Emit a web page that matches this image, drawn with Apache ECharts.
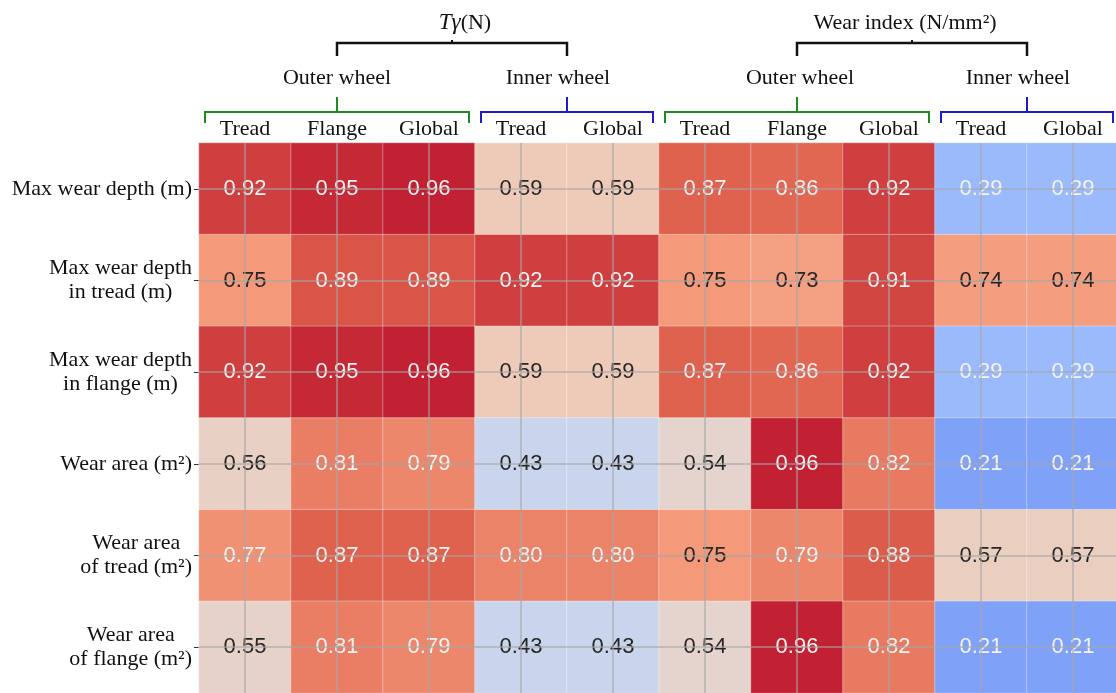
<!DOCTYPE html>
<html>
<head>
<meta charset="utf-8">
<script src="https://cdn.jsdelivr.net/npm/echarts@6.0.0/dist/echarts.min.js"></script>
<style>
  html, body { margin: 0; padding: 0; background: #fff; }
  #chart { width: 1116px; height: 693px; }
</style>
</head>
<body>
<div id="chart"></div>
<script>
// column / row labels
const columns = ['Tread', 'Flange', 'Global', 'Tread', 'Global', 'Tread', 'Flange', 'Global', 'Tread', 'Global']
const rowLabels = [
  'Max wear depth (m)',
  'Max wear depth\nin tread (m)',
  'Max wear depth\nin flange (m)',
  'Wear area (m²)',
  'Wear area\nof tread (m²)',
  'Wear area\nof flange (m²)'
]

// one array per row, same order as columns
const maxWearDepth = [0.92, 0.95, 0.96, 0.59, 0.59, 0.87, 0.86, 0.92, 0.29, 0.29]
const maxWearDepthTread = [0.75, 0.89, 0.89, 0.92, 0.92, 0.75, 0.73, 0.91, 0.74, 0.74]
const maxWearDepthFlange = [0.92, 0.95, 0.96, 0.59, 0.59, 0.87, 0.86, 0.92, 0.29, 0.29]
const wearArea = [0.56, 0.81, 0.79, 0.43, 0.43, 0.54, 0.96, 0.82, 0.21, 0.21]
const wearAreaTread = [0.77, 0.87, 0.87, 0.80, 0.80, 0.75, 0.79, 0.88, 0.57, 0.57]
const wearAreaFlange = [0.55, 0.81, 0.79, 0.43, 0.43, 0.54, 0.96, 0.82, 0.21, 0.21]
const matrix = [maxWearDepth, maxWearDepthTread, maxWearDepthFlange, wearArea, wearAreaTread, wearAreaFlange]

// header groups above the columns
const subGroups = [
  { name: 'Outer wheel', first: 0, last: 2, color: '#1f8a1f' },
  { name: 'Inner wheel', first: 3, last: 4, color: '#1c1cc8' },
  { name: 'Outer wheel', first: 5, last: 7, color: '#1f8a1f' },
  { name: 'Inner wheel', first: 8, last: 9, color: '#1c1cc8' }
]
const topGroups = [
  { text: '{i|Tγ}{n|(N)}', subs: [0, 1] },
  { text: '{n|Wear index (N/mm²)}', subs: [2, 3] }
]
// small nudges of the header titles off their bracket centres (px)
const subLabelShift = [0, -9, 3, -9]
const topLabelShift = [13, -7]

// matplotlib coolwarm, sampled every 1/8
const coolwarm = ['#3b4cc0', '#6282ea', '#8db0fe', '#b8d0f9', '#dddcdc', '#f5c4ac', '#f49a7b', '#de604d', '#b40426']

const serif = '"Liberation Serif", "Times New Roman", serif'
const sans = '"Liberation Sans", Arial, sans-serif'

const cells = []
matrix.forEach((row, i) => {
  row.forEach((v, j) => {
    const light = v >= 0.76 || v <= 0.3
    cells.push({ value: [j, i, v], label: { color: light ? '#f4f4f4' : '#262626' } })
  })
})

const chart = echarts.init(document.getElementById('chart'))

chart.setOption({
  animation: false,
  grid: { left: 199, top: 143, right: -3, bottom: 0, outerBoundsMode: 'none' },
  xAxis: {
    type: 'category',
    position: 'top',
    data: columns,
    axisLine: { show: false },
    axisTick: { show: false },
    splitLine: { show: false },
    axisLabel: { margin: 3, fontFamily: serif, fontSize: 22, color: '#111', interval: 0 }
  },
  yAxis: {
    type: 'category',
    inverse: true,
    data: rowLabels,
    axisLine: { show: false },
    axisTick: { show: true, length: 5, alignWithLabel: true, lineStyle: { color: '#333' } },
    splitLine: { show: false },
    axisLabel: {
      margin: 7,
      interval: 0,
      formatter: (val) => val.split('\n').map((l) => '{c|' + l + '}').join('\n'),
      rich: { c: { align: 'center', fontFamily: serif, fontSize: 22, lineHeight: 24, color: '#111' } }
    }
  },
  visualMap: {
    show: false,
    min: 0,
    max: 1,
    dimension: 2,
    inRange: { color: coolwarm }
  },
  series: [
    {
      type: 'heatmap',
      data: cells,
      itemStyle: { borderColor: 'rgba(255,255,255,0.35)', borderWidth: 1 },
      label: {
        show: true,
        fontFamily: sans,
        fontSize: 22,
        textBorderWidth: 0,
        formatter: (p) => p.value[2].toFixed(2)
      },
      emphasis: { disabled: true },
      markLine: {
        silent: true,
        symbol: ['none', 'none'],
        label: { show: false },
        lineStyle: { color: 'rgba(165,165,165,0.75)', width: 1.5, type: 'solid' },
        data: [
          ...columns.map((c, j) => ({ xAxis: j })),
          ...rowLabels.map((r, i) => ({ yAxis: i }))
        ]
      }
    }
  ]
})

// headers: brackets and group titles, placed from the axis scale
function buildHeaders() {
  const cx = (j) => chart.convertToPixel({ xAxisIndex: 0 }, j)
  const w = cx(1) - cx(0)
  const els = []
  const subCenters = subGroups.map((g, k) => {
    const x1 = cx(g.first) - w / 2 + 6
    const x2 = cx(g.last) + w / 2 - 6
    const xc = (cx(g.first) + cx(g.last)) / 2
    els.push({
      type: 'polyline',
      shape: { points: [[x1, 123], [x1, 112], [x2, 112], [x2, 123]] },
      style: { stroke: g.color, lineWidth: 2, fill: null }
    })
    els.push({
      type: 'line',
      shape: { x1: xc, y1: 97, x2: xc, y2: 112 },
      style: { stroke: g.color, lineWidth: 2 }
    })
    els.push({
      type: 'text',
      x: xc + subLabelShift[k], y: 78,
      style: { text: g.name, font: '22px ' + serif, fill: '#111', align: 'center', verticalAlign: 'middle' }
    })
    return xc
  })
  topGroups.forEach((g, k) => {
    const x1 = subCenters[g.subs[0]]
    const x2 = subCenters[g.subs[1]]
    const xc = (x1 + x2) / 2
    els.push({
      type: 'polyline',
      shape: { points: [[x1, 56], [x1, 43], [x2, 43], [x2, 56]] },
      style: { stroke: '#111', lineWidth: 2.5, fill: null }
    })
    els.push({
      type: 'line',
      shape: { x1: xc, y1: 40, x2: xc, y2: 43 },
      style: { stroke: '#111', lineWidth: 2 }
    })
    els.push({
      type: 'text',
      x: xc + topLabelShift[k], y: 23,
      style: {
        text: g.text,
        align: 'center',
        verticalAlign: 'middle',
        rich: {
          i: { fontFamily: serif, fontSize: 23, fontStyle: 'italic', fill: '#111' },
          n: { fontFamily: serif, fontSize: 22, fill: '#111' }
        }
      }
    })
  })
  chart.setOption({ graphic: els })
}

buildHeaders()
</script>
</body>
</html>
